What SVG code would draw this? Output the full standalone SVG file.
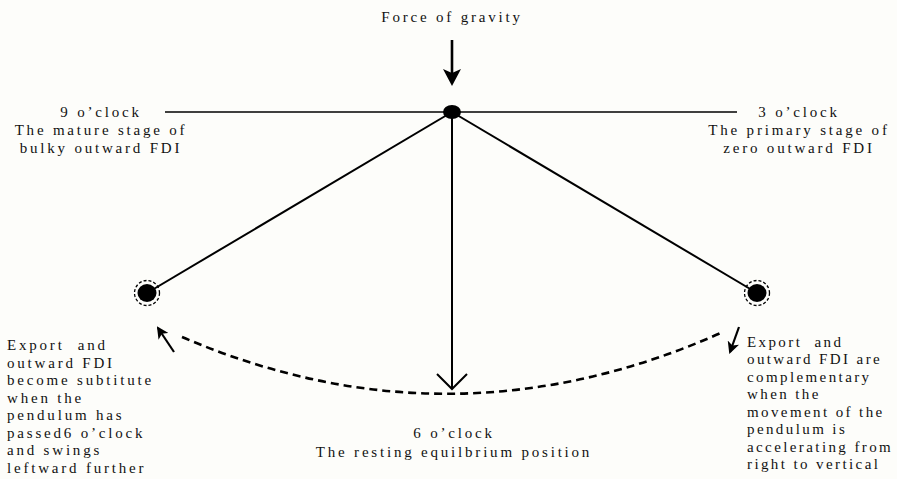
<svg xmlns="http://www.w3.org/2000/svg" width="897" height="479" viewBox="0 0 897 479">
<defs>
<style>
text{font-family:"Liberation Serif","Times New Roman",serif;font-size:15px;letter-spacing:2.8px;fill:#111}
.c{text-anchor:middle}
.ln{stroke:#000;fill:none}
#right-text text{letter-spacing:2.4px}
</style>
<marker id="fa" markerWidth="12" markerHeight="12" refX="10" refY="6" orient="auto" markerUnits="userSpaceOnUse" viewBox="0 0 12 12">
<path d="M0,0 L12,6 L0,12 L3,6 Z" fill="#000"/>
</marker>
</defs>
<rect width="897" height="479" fill="#fdfdfa"/>
<g id="connectors">
<line class="ln" x1="165" y1="112" x2="737" y2="112" stroke-width="1.3"/>
<line class="ln" x1="452" y1="112" x2="147" y2="293" stroke-width="2"/>
<line class="ln" x1="452" y1="112" x2="757" y2="293" stroke-width="2"/>
<line class="ln" x1="452" y1="112" x2="452" y2="389" stroke-width="2"/>
<path class="ln" d="M437,374 L452,389 L467,374" stroke-width="2"/>
<line class="ln" x1="452" y1="40" x2="452" y2="75" stroke-width="2.6"/>
<path d="M443,69 L452,86 L461,69 L452,73 Z" fill="#000"/>
<path class="ln" d="M182,337 Q452,453 723,332" stroke-width="2.6" stroke-dasharray="8,5"/>
<line class="ln" x1="174" y1="352" x2="158" y2="328" stroke-width="2.2" marker-end="url(#fa)"/>
<line class="ln" x1="739" y1="327" x2="730" y2="352" stroke-width="2.2" marker-end="url(#fa)"/>
</g>
<g id="pivot"><ellipse cx="452" cy="112" rx="9" ry="7" fill="#000"/></g>
<g id="gravity"><text class="c" x="452" y="22">Force of gravity</text></g>
<g id="left-bob">
<circle cx="147" cy="293" r="12.5" fill="none" stroke="#000" stroke-width="1.3" stroke-dasharray="3,2"/>
<ellipse cx="147" cy="293" rx="9.5" ry="9" fill="#000"/>
</g>
<g id="right-bob">
<circle cx="757" cy="293" r="12.5" fill="none" stroke="#000" stroke-width="1.3" stroke-dasharray="3,2"/>
<ellipse cx="757" cy="293" rx="9.5" ry="9" fill="#000"/>
</g>
<g id="nine">
<text class="c" x="101" y="117">9 o’clock</text>
<text class="c" x="101" y="135">The mature stage of</text>
<text class="c" x="101" y="153">bulky outward FDI</text>
</g>
<g id="three">
<text class="c" x="799" y="117">3 o’clock</text>
<text class="c" x="799" y="135">The primary stage of</text>
<text class="c" x="799" y="153">zero outward FDI</text>
</g>
<g id="six">
<text class="c" x="454" y="438">6 o’clock</text>
<text class="c" x="454" y="457">The resting equilbrium position</text>
</g>
<g id="left-text">
<text x="7" y="350">Export&#160; and</text>
<text x="7" y="367.5">outward FDI</text>
<text x="7" y="385">become subtitute</text>
<text x="7" y="402.5">when the</text>
<text x="7" y="420">pendulum has</text>
<text x="7" y="437.5">passed6 o’clock</text>
<text x="7" y="455">and swings</text>
<text x="7" y="472.5">leftward further</text>
</g>
<g id="right-text">
<text x="747" y="347">Export&#160; and</text>
<text x="747" y="364">outward FDI are</text>
<text x="747" y="382">complementary</text>
<text x="747" y="399">when the</text>
<text x="747" y="417">movement of the</text>
<text x="747" y="434">pendulum is</text>
<text x="747" y="452">accelerating from</text>
<text x="747" y="469">right to vertical</text>
</g>
</svg>
